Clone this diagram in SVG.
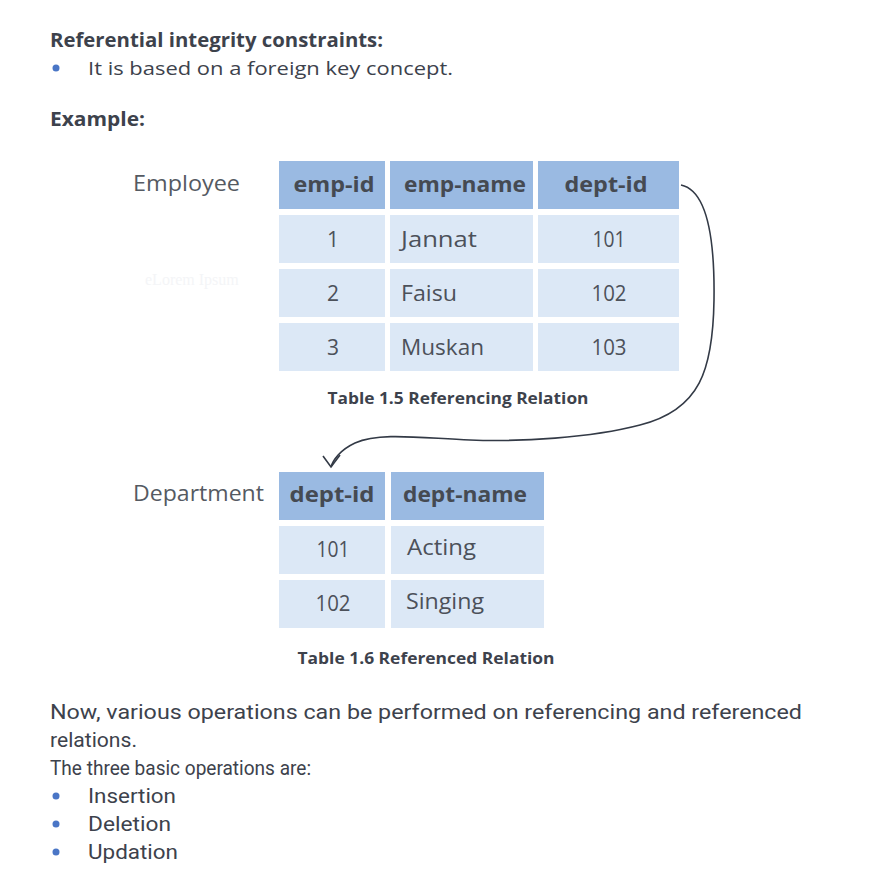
<svg xmlns="http://www.w3.org/2000/svg" width="875" height="890" viewBox="0 0 875 890">
<style>
.t{font-family:"Open Sans","Liberation Sans",sans-serif;fill:#3d424c}
.b{font-weight:bold}
.p{font-family:"Roboto","Liberation Sans",sans-serif;fill:#3d424c;font-size:19.5px}
.hd{fill:#9abae2}
.cl{fill:#dce8f6}
.ht{font-family:"Open Sans","Liberation Sans",sans-serif;font-weight:bold;font-size:22px;fill:#454a52}
.ct{font-family:"Open Sans","Liberation Sans",sans-serif;font-size:21px;fill:#4c515a}
.lbl{font-family:"Open Sans","Liberation Sans",sans-serif;font-size:21px;fill:#555a62}
.cap{font-family:"Open Sans","Liberation Sans",sans-serif;font-weight:bold;font-size:16.5px;fill:#3d424c}
.dot{fill:#4a76c6}
.conn{fill:none;stroke:#333a46;stroke-width:1.6}
</style>
<rect width="875" height="890" fill="#ffffff"/>
<g id="intro">
<text class="t b" x="50" y="47" font-size="19" textLength="333" lengthAdjust="spacingAndGlyphs">Referential integrity constraints:</text>
<circle class="dot" cx="56" cy="68" r="3.5"/>
<text class="t" x="88" y="75" font-size="19" textLength="365" lengthAdjust="spacingAndGlyphs">It is based on a foreign key concept.</text>
<text class="t b" x="50" y="126" font-size="19" textLength="95" lengthAdjust="spacingAndGlyphs">Example:</text>
</g>
<text x="145" y="285" font-family="Liberation Serif,serif" font-size="16" fill="#f4f5f7">eLorem Ipsum</text>
<g id="employee">
<text class="lbl" x="133" y="191" textLength="107" lengthAdjust="spacingAndGlyphs">Employee</text>
<rect class="hd" x="279" y="161" width="106" height="48"/>
<rect class="hd" x="390" y="161" width="143" height="48"/>
<rect class="hd" x="538" y="161" width="141" height="48"/>
<text class="ht" x="334" y="192" text-anchor="middle" textLength="81" lengthAdjust="spacingAndGlyphs">emp-id</text>
<text class="ht" x="465" y="192" text-anchor="middle" textLength="122" lengthAdjust="spacingAndGlyphs">emp-name</text>
<text class="ht" x="606" y="192" text-anchor="middle" textLength="83" lengthAdjust="spacingAndGlyphs">dept-id</text>
<rect class="cl" x="279" y="215" width="106" height="48"/>
<rect class="cl" x="390" y="215" width="143" height="48"/>
<rect class="cl" x="538" y="215" width="141" height="48"/>
<rect class="cl" x="279" y="269" width="106" height="48"/>
<rect class="cl" x="390" y="269" width="143" height="48"/>
<rect class="cl" x="538" y="269" width="141" height="48"/>
<rect class="cl" x="279" y="323" width="106" height="48"/>
<rect class="cl" x="390" y="323" width="143" height="48"/>
<rect class="cl" x="538" y="323" width="141" height="48"/>
<text class="ct" x="333" y="247" text-anchor="middle">1</text>
<text class="ct" x="401" y="247" textLength="76" lengthAdjust="spacingAndGlyphs">Jannat</text>
<text class="ct" x="609" y="247" text-anchor="middle" textLength="33" lengthAdjust="spacingAndGlyphs">101</text>
<text class="ct" x="333" y="301" text-anchor="middle">2</text>
<text class="ct" x="401" y="301" textLength="56" lengthAdjust="spacingAndGlyphs">Faisu</text>
<text class="ct" x="609" y="301" text-anchor="middle" textLength="35" lengthAdjust="spacingAndGlyphs">102</text>
<text class="ct" x="333" y="355" text-anchor="middle">3</text>
<text class="ct" x="401" y="355" textLength="83" lengthAdjust="spacingAndGlyphs">Muskan</text>
<text class="ct" x="609" y="355" text-anchor="middle" textLength="35" lengthAdjust="spacingAndGlyphs">103</text>
<text class="cap" x="458" y="404" text-anchor="middle" textLength="261" lengthAdjust="spacingAndGlyphs">Table 1.5 Referencing Relation</text>
</g>
<g id="department">
<text class="lbl" x="133" y="501" textLength="131" lengthAdjust="spacingAndGlyphs">Department</text>
<rect class="hd" x="279" y="472" width="106" height="48"/>
<rect class="hd" x="391" y="472" width="153" height="48"/>
<text class="ht" x="332" y="502" text-anchor="middle" textLength="85" lengthAdjust="spacingAndGlyphs">dept-id</text>
<text class="ht" x="465" y="502" text-anchor="middle" textLength="124" lengthAdjust="spacingAndGlyphs">dept-name</text>
<rect class="cl" x="279" y="526" width="106" height="48"/>
<rect class="cl" x="391" y="526" width="153" height="48"/>
<rect class="cl" x="279" y="580" width="106" height="48"/>
<rect class="cl" x="391" y="580" width="153" height="48"/>
<text class="ct" x="333" y="557" text-anchor="middle" textLength="33" lengthAdjust="spacingAndGlyphs">101</text>
<text class="ct" x="407" y="555" textLength="69" lengthAdjust="spacingAndGlyphs">Acting</text>
<text class="ct" x="333" y="611" text-anchor="middle" textLength="35" lengthAdjust="spacingAndGlyphs">102</text>
<text class="ct" x="406" y="609" textLength="78" lengthAdjust="spacingAndGlyphs">Singing</text>
<text class="cap" x="426" y="664" text-anchor="middle" textLength="257" lengthAdjust="spacingAndGlyphs">Table 1.6 Referenced Relation</text>
</g>
<g id="connectors">
<path class="conn" d="M681,185 C705,190 715,230 714,300 C713,370 700,410 640,425 C590,438 520,442 470,440 C420,438 380,432 355,443 C340,450 333,460 331,467"/>
<path class="conn" d="M323,456 L331,467 L340,455"/>
</g>
<g id="outro">
<text class="p" x="50" y="719" textLength="752" lengthAdjust="spacingAndGlyphs">Now, various operations can be performed on referencing and referenced</text>
<text class="p" x="50" y="747" textLength="87" lengthAdjust="spacingAndGlyphs">relations.</text>
<text class="p" x="50" y="775" textLength="261" lengthAdjust="spacingAndGlyphs">The three basic operations are:</text>
<circle class="dot" cx="56" cy="796" r="3.5"/>
<text class="p" x="88" y="803" textLength="88" lengthAdjust="spacingAndGlyphs">Insertion</text>
<circle class="dot" cx="56" cy="824" r="3.5"/>
<text class="p" x="88" y="831" textLength="83" lengthAdjust="spacingAndGlyphs">Deletion</text>
<circle class="dot" cx="56" cy="852" r="3.5"/>
<text class="p" x="88" y="859" textLength="90" lengthAdjust="spacingAndGlyphs">Updation</text>
</g>
</svg>
